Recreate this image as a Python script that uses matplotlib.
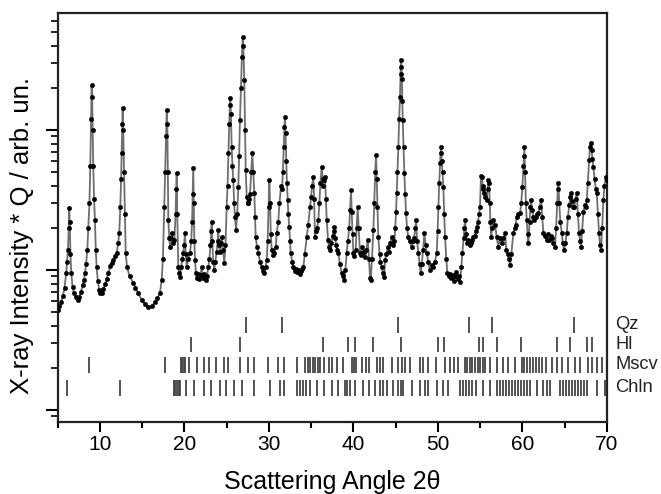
import matplotlib
matplotlib.use("Agg")
import matplotlib.pyplot as plt
from matplotlib.ticker import LogLocator, NullFormatter, MultipleLocator

plt.rcParams['font.family'] = ['Liberation Sans', 'DejaVu Sans']

two_theta = [
    5.0, 5.2, 5.4, 5.6, 5.8, 6.0, 6.1, 6.2, 6.3, 6.36, 6.42, 6.5, 6.6, 6.75, 6.9, 7.1, 7.35, 7.55, 7.75, 7.95,
    8.1, 8.22, 8.35, 8.5, 8.61, 8.75, 8.85, 8.95, 9.01, 9.07, 9.13, 9.2, 9.3, 9.4, 9.5, 9.6, 9.75, 9.9, 10.05, 10.2,
    10.4, 10.6, 10.8, 10.98, 11.2, 11.4, 11.57, 11.8, 11.97, 12.15, 12.28, 12.4, 12.5, 12.56, 12.62, 12.68, 12.75, 12.85, 12.95, 13.04,
    13.2, 13.5, 13.94, 14.2, 14.5, 14.93, 15.3, 15.72, 16.1, 16.51, 16.8, 17.1, 17.3, 17.45, 17.61, 17.72, 17.82, 17.9, 17.97, 18.03,
    18.09, 18.2, 18.29, 18.4, 18.49, 18.6, 18.8, 18.95, 19.02, 19.08, 19.15, 19.27, 19.37, 19.47, 19.6, 19.75, 19.86, 19.95, 20.06, 20.15,
    20.26, 20.45, 20.65, 20.8, 20.9, 20.98, 21.04, 21.1, 21.17, 21.25, 21.35, 21.45, 21.6, 21.75, 21.9, 22.04, 22.2, 22.35, 22.5, 22.65,
    22.82, 22.95, 23.08, 23.16, 23.22, 23.3, 23.4, 23.53, 23.65, 23.8, 23.92, 24.01, 24.1, 24.2, 24.3, 24.41, 24.55, 24.72, 24.85, 25.0,
    25.1, 25.2, 25.3, 25.38, 25.43, 25.5, 25.59, 25.68, 25.78, 25.88, 25.98, 26.1, 26.25, 26.37, 26.47, 26.57, 26.69, 26.8, 26.9, 26.97,
    27.08, 27.17, 27.25, 27.37, 27.47, 27.56, 27.66, 27.76, 27.9, 28.03, 28.15, 28.27, 28.35, 28.43, 28.6, 28.74, 28.95, 29.14, 29.3, 29.45,
    29.6, 29.74, 29.85, 29.95, 30.05, 30.13, 30.22, 30.33, 30.5, 30.64, 30.8, 30.92, 31.1, 31.25, 31.43, 31.55, 31.65, 31.75, 31.83, 31.9,
    31.97, 32.05, 32.13, 32.22, 32.3, 32.4, 32.5, 32.58, 32.75, 32.89, 33.05, 33.2, 33.35, 33.5, 33.65, 33.8, 33.95, 34.07, 34.25, 34.47,
    34.65, 34.86, 35.0, 35.1, 35.26, 35.35, 35.45, 35.55, 35.7, 35.85, 35.97, 36.1, 36.25, 36.35, 36.45, 36.55, 36.64, 36.74, 36.84, 37.0,
    37.1, 37.23, 37.4, 37.55, 37.65, 37.74, 37.85, 37.95, 38.08, 38.22, 38.4, 38.62, 38.78, 38.93, 39.05, 39.2, 39.35, 39.5, 39.6, 39.72,
    39.8, 39.9, 40.0, 40.13, 40.27, 40.38, 40.51, 40.62, 40.79, 40.93, 41.06, 41.2, 41.38, 41.55, 41.7, 41.85, 41.97, 42.05, 42.2, 42.36,
    42.47, 42.58, 42.68, 42.77, 42.85, 42.95, 43.1, 43.2, 43.35, 43.5, 43.66, 43.74, 43.9, 44.05, 44.2, 44.35, 44.54, 44.7, 44.85, 44.95,
    45.05, 45.13, 45.22, 45.32, 45.42, 45.52, 45.58, 45.64, 45.69, 45.74, 45.79, 45.84, 45.94, 46.03, 46.13, 46.23, 46.35, 46.5, 46.65, 46.9,
    47.05, 47.2, 47.32, 47.42, 47.55, 47.69, 47.85, 47.97, 48.1, 48.25, 48.4, 48.55, 48.68, 48.85, 49.07, 49.25, 49.47, 49.65, 49.87, 49.97,
    50.06, 50.16, 50.26, 50.32, 50.38, 50.46, 50.55, 50.65, 50.75, 50.85, 51.0, 51.12, 51.3, 51.44, 51.6, 51.75, 51.9, 52.05, 52.2, 52.35,
    52.5, 52.63, 52.78, 52.9, 53.05, 53.15, 53.22, 53.35, 53.45, 53.6, 53.75, 53.9, 54.05, 54.2, 54.35, 54.5, 54.6, 54.75, 54.88, 54.99,
    55.1, 55.2, 55.3, 55.4, 55.5, 55.62, 55.79, 55.9, 55.98, 56.06, 56.15, 56.22, 56.3, 56.45, 56.57, 56.77, 56.97, 57.16, 57.36, 57.56,
    57.75, 57.95, 58.1, 58.25, 58.4, 58.55, 58.7, 58.94, 59.1, 59.2, 59.34, 59.5, 59.73, 59.87, 60.0, 60.12, 60.18, 60.24, 60.32, 60.42,
    60.52, 60.62, 60.72, 60.85, 60.95, 61.03, 61.15, 61.3, 61.43, 61.6, 61.75, 61.9, 62.05, 62.22, 62.35, 62.5, 62.7, 62.89, 63.05, 63.2,
    63.35, 63.48, 63.65, 63.87, 64.0, 64.12, 64.2, 64.27, 64.37, 64.5, 64.67, 64.8, 64.94, 65.1, 65.26, 65.4, 65.55, 65.68, 65.77, 65.9,
    66.05, 66.16, 66.3, 66.44, 66.58, 66.72, 66.85, 66.95, 67.08, 67.23, 67.4, 67.52, 67.63, 67.75, 67.9, 68.0, 68.1, 68.2, 68.3, 68.41,
    68.55, 68.7, 68.81, 68.95, 69.08, 69.2, 69.32, 69.45, 69.59, 69.72, 69.88, 70.0,
]
intensity = [
    5.2, 5.5, 5.9, 6.5, 7.5, 9.5, 11.5, 14, 20, 27.7, 22, 13, 9.5, 7.6, 6.9, 6.4, 6.1, 6.4, 7.0, 7.8,
    8.5, 9.5, 11, 14, 20, 30, 55, 120, 210, 172, 100, 55, 32, 22.7, 14, 10.5, 8.3, 7.2, 6.8, 6.9,
    7.3, 7.9, 8.6, 9.5, 10.6, 11.3, 11.8, 12.6, 13.2, 15.5, 18.4, 28, 45, 68, 110, 143, 100, 50, 25, 13.2,
    10.5, 9.0, 8.1, 7.5, 6.9, 6.1, 5.7, 5.4, 5.5, 5.9, 6.3, 6.85, 8.5, 12, 28, 50, 90, 139, 110, 50,
    22.7, 17, 14.6, 17, 18.4, 15.5, 16.4, 25, 38, 49.3, 25, 10.5, 9.5, 8.9, 10.5, 12, 13.2, 15, 18.4, 13,
    10.5, 12, 13.2, 16, 22, 35, 53.5, 30, 16, 11.8, 9.5, 8.8, 9.3, 8.6, 9.2, 10.5, 8.8, 9.3, 8.5, 9.0,
    10.5, 12, 15, 19, 22, 16, 11.5, 10, 11.5, 13.5, 16, 19.3, 15, 13.5, 15.5, 17.2, 14, 11.2, 15, 28.2,
    40, 68.5, 110, 150, 169, 130, 75, 55, 44, 30, 23.9, 19.3, 25, 39, 65, 118, 200, 330, 462, 400,
    228, 100, 51.8, 33.2, 30, 30.1, 32, 35, 50, 68.5, 50, 35.5, 24, 17.2, 14.6, 13.2, 11.5, 10.5, 9.8, 9.5,
    10.5, 11.8, 16, 28, 44, 30, 18, 13.9, 12.8, 13.2, 14.5, 18.4, 22, 30, 40, 38, 50, 75, 105, 123,
    95, 60, 42, 31.6, 25, 20.3, 16, 13.2, 11.5, 10.5, 9.8, 10.2, 9.6, 10, 9.4, 9.8, 10.2, 10.5, 13, 17.2,
    21, 28.2, 33, 40, 46.1, 32, 17.2, 19, 20, 22.8, 30, 42, 54.4, 45, 40, 44, 46.1, 32, 22.7, 16.5,
    14.5, 13.9, 15.5, 17.5, 19, 20.3, 17, 15, 14, 13.2, 11, 9.5, 9.0, 8.5, 10, 13.2, 16, 20, 27, 37.3,
    26, 18, 13.2, 12.5, 13.9, 20, 28.2, 20, 13.2, 12.8, 14.6, 13.5, 12.4, 14, 16.4, 12, 8.8, 8.5, 12, 19.3,
    30, 50, 66.3, 45, 28, 17.2, 13, 11.5, 10.5, 9.5, 8.9, 11.8, 13, 14.5, 13.5, 15.5, 17.2, 15, 16, 20,
    26, 35.5, 50, 75, 120, 172, 250, 316, 280, 230, 160, 118, 75, 49, 35, 25.5, 20, 17.2, 16, 14.6,
    16, 17, 20, 22.7, 16, 13.2, 11, 9.5, 11, 14, 18.4, 15, 13.2, 11.5, 10, 10.8, 10.5, 11.5, 13.2, 19,
    28, 42, 58, 68, 75, 60, 50, 39, 25, 17.2, 12, 9.5, 9.0, 9.4, 8.8, 9.2, 8.4, 9.0, 9.6, 8.6,
    9.0, 8.2, 10.5, 13.2, 17, 20, 22.7, 18, 15.5, 16.4, 15, 15.5, 16.5, 17.2, 17.5, 19, 20.3, 22, 25, 28.2,
    47, 46, 40, 38, 35.5, 33, 31.6, 38, 44, 41.8, 30, 22, 17.2, 20, 22.7, 21, 17.2, 14.6, 17, 15.5,
    17, 18.4, 14, 13, 12, 10.8, 13, 18.4, 20, 21, 23.9, 25, 25.5, 30, 39, 55, 65, 75, 50, 30,
    22.7, 18, 15.5, 22, 28, 31.6, 27, 24, 22.7, 24, 25, 25.5, 28, 31.6, 24, 18.4, 17.5, 16.4, 18, 16.5,
    17.5, 17, 15.5, 14.6, 20, 30, 38, 41.8, 30, 22, 18.4, 15.5, 13.9, 15.5, 18.4, 24, 29, 33, 35.5, 31,
    28, 28.2, 32, 35.5, 25, 18.4, 16, 14.6, 19, 26, 29, 28, 31.6, 42, 61, 75, 81, 72, 62, 54.4,
    45, 38, 35.5, 25, 18.4, 15, 13.9, 20, 31.6, 40, 46.1, 44,
]

# reflection positions of the phases (2theta, deg)
phase_names = ["Qz", "Hl", "Mscv", "Chln"]
qz_pos = [27.23, 31.58, 45.32, 53.73, 56.38, 66.13]
hl_pos = [20.74, 26.54, 36.37, 39.4, 40.2, 42.3, 45.6, 50.06, 50.73, 54.9, 55.4, 57.0, 59.8,
          64.1, 65.6, 67.6, 68.2]
mscv_pos = [8.73, 17.66, 19.59, 19.74, 19.9, 20.1, 20.57, 21.48, 22.28, 22.94, 23.77, 24.64, 25.12,
            26.6, 27.52, 28.27, 29.85, 31.04, 31.75, 33.32, 34.31, 34.59, 34.9, 35.22, 35.49, 35.78,
            36.08, 36.49, 37.08, 37.43, 38.02, 38.73, 39.85, 40.09, 40.32, 40.98, 41.49, 41.89, 42.76,
            43.15, 43.55, 44.54, 45.32, 45.72, 46.11, 46.7, 47.89, 48.28, 48.87, 49.78, 50.85, 51.44,
            51.91, 52.42, 53.22, 53.5, 53.8, 54.1, 54.4, 54.7, 55.0, 55.3, 55.6, 56.18, 56.97, 57.75,
            58.35, 59.14, 59.93, 60.2, 60.56, 60.91, 61.27, 61.62, 61.98, 62.33, 62.8, 63.48, 64.07,
            64.67, 65.45, 66.24, 66.83, 67.82, 68.22, 68.81, 69.4]
chln_pos = [6.09, 12.4, 18.72, 18.91, 19.11, 19.32, 19.51, 20.22, 21.09, 22.28, 23.14, 24.25, 24.96,
            25.83, 26.81, 28.2, 30.17, 31.35, 31.75, 33.32, 33.68, 34.03, 34.39, 34.86, 35.69, 36.48,
            37.47, 38.22, 39.0, 39.24, 39.6, 40.2, 41.17, 41.89, 42.56, 43.15, 43.5, 43.94, 44.73,
            45.32, 45.64, 45.91, 46.9, 47.89, 48.48, 48.87, 49.86, 50.65, 51.24, 52.66, 53.02, 53.37,
            53.73, 54.08, 54.55, 55.39, 56.18, 56.97, 57.36, 57.72, 58.07, 58.43, 58.78, 59.14, 59.5,
            59.85, 60.2, 60.56, 60.91, 61.71, 62.5, 62.89, 63.28, 64.47, 64.86, 65.18, 65.53, 65.89,
            66.24, 66.6, 66.95, 67.3, 67.66, 68.81, 69.79]
xticks = [10, 20, 30, 40, 50, 60, 70]

fig = plt.figure(figsize=(6.61, 4.94), dpi=100)
ax = fig.add_axes([0.0874, 0.1457, 0.8306, 0.828])

ax.plot(two_theta, intensity, color='#6e6e6e', lw=1.3, zorder=2)
ax.plot(two_theta, intensity, linestyle='none', marker='o', ms=3.2, mfc='black', mec='black',
        mew=0.3, zorder=3)

ax.set_yscale('log')
ax.set_xlim(5, 70)
ax.set_ylim(0.821, 685)

# phase reflection markers in axes-fraction rows
rows = [(0.218, 0.257), (0.171, 0.208), (0.120, 0.159), (0.064, 0.103)]
for pos, (y0, y1), name in zip([qz_pos, hl_pos, mscv_pos, chln_pos], rows, phase_names):
    ax.vlines(pos, y0, y1, transform=ax.get_xaxis_transform(), color='#444444', lw=1.3)
    ax.text(1.016, (y0 + y1) / 2, name, transform=ax.transAxes, ha='left', va='center',
            fontsize=13.2, color='#222222')

ax.set_xticks(xticks)
ax.xaxis.set_minor_locator(MultipleLocator(5))
ax.yaxis.set_major_locator(LogLocator(base=10))
ax.yaxis.set_minor_locator(LogLocator(base=10, subs=range(2, 10)))
ax.yaxis.set_major_formatter(NullFormatter())
ax.yaxis.set_minor_formatter(NullFormatter())
ax.tick_params(axis='x', which='major', direction='out', length=7, width=1.5, labelsize=15, pad=2)
ax.tick_params(axis='x', which='minor', direction='out', length=4, width=1.5)
ax.tick_params(axis='y', which='major', direction='out', length=9, width=1.5)
ax.tick_params(axis='y', which='minor', direction='out', length=5, width=1.2)
for s in ax.spines.values():
    s.set_linewidth(1.6)
    s.set_color('#222222')

ax.set_xlabel('Scattering Angle 2θ', fontsize=18)
ax.set_ylabel('X-ray Intensity * Q / arb. un.', fontsize=18.5)
ax.xaxis.set_label_coords(0.5, -0.118)
ax.yaxis.set_label_coords(-0.043, 0.457)

fig.savefig('out.png', dpi=100)
